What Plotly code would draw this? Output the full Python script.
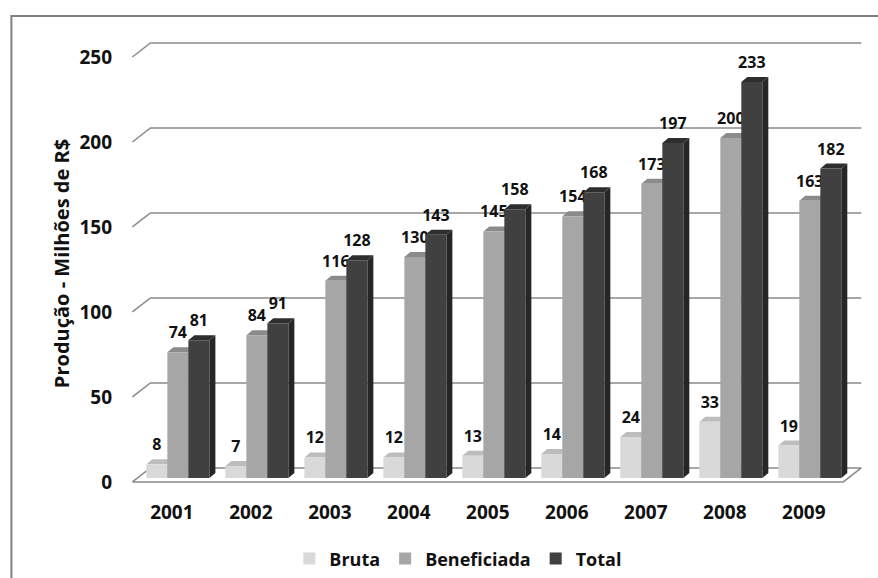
import plotly.graph_objects as go

# ---- data ----
years = ["2001", "2002", "2003", "2004", "2005", "2006", "2007", "2008", "2009"]
bruta = [8, 7, 12, 12, 13, 14, 24, 33, 19]
beneficiada = [74, 84, 116, 130, 145, 154, 173, 200, 163]
total = [81, 91, 128, 143, 158, 168, 197, 233, 182]
y_ticks = [0, 50, 100, 150, 200, 250]
series_names = ["Bruta", "Beneficiada", "Total"]

# ---- styles / geometry (in axis units) ----
FONT = "Open Sans"
front_col = ["#d9d9d9", "#a6a6a6", "#404040"]
top_col = ["#bdbdbd", "#8b8b8b", "#2e2e2e"]
side_col = ["#b2b2b2", "#7f7f7f", "#262626"]
grid_col = "#8a8a8a"

W, H = 878, 578
XR = [-0.72, 8.8]
YR = [-3, 260]
px_x = 79.0          # px per x unit
px_y = 1.7           # px per y unit
ML = 171.5 + XR[0] * px_x
MR = W - (171.5 + XR[1] * px_x)
MT = 482 - YR[1] * px_y
MB = H - (482 - YR[0] * px_y)

wall_dx, wall_dy = 18 / px_x, 14 / px_y      # back wall depth
bar_px0 = 4 / px_y                            # bar base offset above floor front
bar_w = 21 / px_x
bar_dx, bar_dy = 6 / px_x, 5 / px_y          # bar depth
bar_left = [-0.323, -0.057, 0.209]            # left edge of each series within a category
label_gap = 10.6

n = len(years)
fig = go.Figure()

# ---- floor ----
x0, x1 = -0.5, n - 0.5
fig.add_trace(go.Scatter(
    x=[x0, x1, x1 + wall_dx, x0 + wall_dx, x0],
    y=[0, 0, wall_dy, wall_dy, 0],
    mode="lines", fill="toself", fillcolor="white",
    line=dict(color=grid_col, width=1.5), hoverinfo="skip", showlegend=False))

# ---- back wall gridlines ----
gx, gy = [], []
for v in y_ticks[1:]:
    gx += [x0, x0 + wall_dx, x1 + wall_dx, None]
    gy += [v, v + wall_dy, v + wall_dy, None]
fig.add_trace(go.Scatter(x=gx, y=gy, mode="lines",
                         line=dict(color=grid_col, width=1.5),
                         hoverinfo="skip", showlegend=False))

# ---- 3D bars ----
all_series = [bruta, beneficiada, total]
for s, vals in enumerate(all_series):
    fx, fy, tx, ty, sx, sy = [], [], [], [], [], []
    lx, ly, lt = [], [], []
    for i, v in enumerate(vals):
        L = i + bar_left[s]
        R = L + bar_w
        B = bar_px0
        T = bar_px0 + v
        fx += [L, R, R, L, L, None]
        fy += [B, B, T, T, B, None]
        tx += [L, R, R + bar_dx, L + bar_dx, L, None]
        ty += [T, T, T + bar_dy, T + bar_dy, T, None]
        sx += [R, R + bar_dx, R + bar_dx, R, R, None]
        sy += [B, B + bar_dy, T + bar_dy, T, B, None]
        lx.append(L + bar_w / 2)
        ly.append(T + label_gap)
        lt.append(str(v))
    for xs, ys, c in [(sx, sy, side_col[s]), (tx, ty, top_col[s]), (fx, fy, front_col[s])]:
        fig.add_trace(go.Scatter(x=xs, y=ys, mode="lines", fill="toself",
                                 fillcolor=c, line=dict(width=0, color=c),
                                 hoverinfo="skip", showlegend=False))
    fig.add_trace(go.Scatter(x=lx, y=ly, mode="text", text=lt,
                             textposition="middle center", cliponaxis=False,
                             textfont=dict(family=FONT, size=16, color="#111111", weight="bold"),
                             hoverinfo="skip", showlegend=False))

# ---- legend entries ----
for s, name in enumerate(series_names):
    fig.add_trace(go.Bar(x=[None], y=[None], name=name,
                         marker=dict(color=front_col[s], line=dict(width=0))))

pw = W - ML - MR
ph = H - MT - MB
def paper_x(px):
    return (px - ML) / pw
def paper_y(py):
    return (H - MB - py) / ph

fig.update_layout(
    width=W, height=H,
    margin=dict(l=ML, r=MR, t=MT, b=MB, pad=0, autoexpand=False),
    paper_bgcolor="white", plot_bgcolor="white",
    font=dict(family=FONT, color="#111111"),
    xaxis=dict(range=XR, showgrid=False, zeroline=False, showline=False,
               automargin=False,
               tickmode="array", tickvals=list(range(n)), ticktext=years,
               tickfont=dict(family=FONT, size=19, color="#111111", weight="bold"),
               ticks="", ticklabelstandoff=12, fixedrange=True),
    yaxis=dict(range=YR, showgrid=False, zeroline=False, showline=False,
               automargin=False,
               tickmode="array", tickvals=y_ticks,
               tickfont=dict(family=FONT, size=19, color="#111111", weight="bold"),
               ticks="", ticklabelstandoff=2, fixedrange=True,
               title=dict(text="Produção - Milhões de R$", standoff=4,
                          font=dict(family=FONT, size=20, color="#111111", weight="bold"))),
    legend=dict(orientation="h", x=paper_x(458), xanchor="center",
                y=paper_y(559), yanchor="middle",
                font=dict(family=FONT, size=18, color="#111111", weight="bold"),
                itemwidth=30, bgcolor="rgba(0,0,0,0)"),
    shapes=[dict(type="path", xref="paper", yref="paper",
                 path=f"M {paper_x(11)},{paper_y(H + 5)} L {paper_x(11)},{paper_y(16)} L {paper_x(W + 5)},{paper_y(16)}",
                 line=dict(color="#808080", width=2))],
    showlegend=True,
)

fig.write_html("out.html")
